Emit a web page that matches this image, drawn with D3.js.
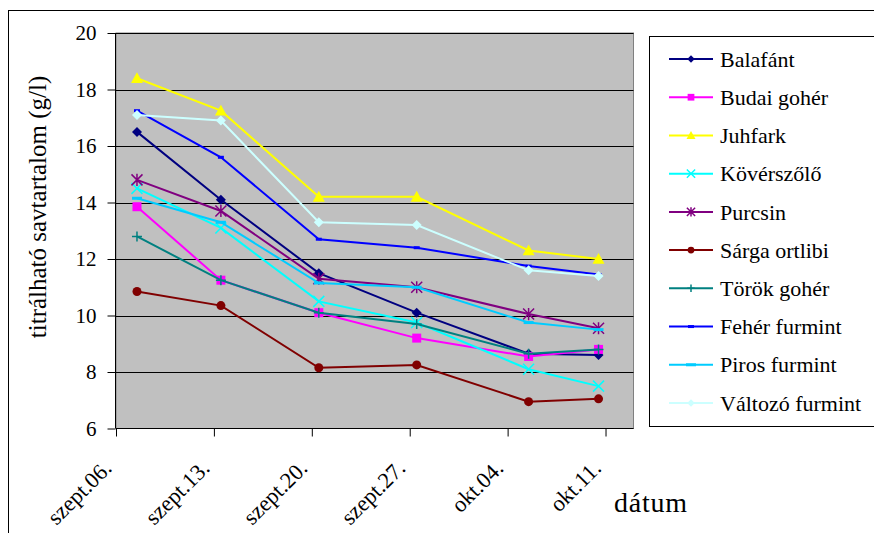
<!DOCTYPE html>
<html>
<head>
<meta charset="utf-8">
<script src="https://cdn.jsdelivr.net/npm/d3@7"></script>
<style>
  html, body { margin: 0; padding: 0; background: #fff; }
  svg { display: block; }
  svg text { font-family: "Liberation Serif", "Tinos", "DejaVu Serif", "Noto Serif", "Times New Roman", Times, serif !important; fill: #000; }
</style>
</head>
<body>
<svg id="chart" width="874" height="533"></svg>
<script>
// Sampling days, counted from szept.06. (day 0)
const sampleDays = [1, 7, 14, 21, 29, 34];
const tickDays = [0, 7, 14, 21, 28, 35];
const tickLabels = ["szept.06.", "szept.13.", "szept.20.", "szept.27.", "okt.04.", "okt.11."];
const yTicks = [6, 8, 10, 12, 14, 16, 18, 20];

// Titratable acid content (g/l) per variety
const balafant = [16.5, 14.1, 11.5, 10.1, 8.65, 8.6];
const budaiGoher = [13.85, 11.25, 10.1, 9.2, 8.55, 8.8];
const juhfark = [18.4, 17.25, 14.2, 14.2, 12.3, 12.0];
const koverszolo = [14.5, 13.1, 10.5, 9.75, 8.1, 7.5];
const purcsin = [14.8, 13.7, 11.3, 11.0, 10.05, 9.55];
const sargaOrtlibi = [10.85, 10.35, 8.15, 8.25, 6.95, 7.05];
const torokGoher = [12.8, 11.25, 10.1, 9.7, 8.65, 8.8];
const feherFurmint = [17.25, 15.6, 12.7, 12.4, 11.75, 11.45];
const pirosFurmint = [14.15, 13.3, 11.15, 11.0, 9.75, 9.5];
const valtozoFurmint = [17.1, 16.9, 13.3, 13.2, 11.6, 11.4];

const seriesNames = ["Balafánt", "Budai gohér", "Juhfark", "Kövérszőlő", "Purcsin",
  "Sárga ortlibi", "Török gohér", "Fehér furmint", "Piros furmint", "Változó furmint"];
const seriesValues = [balafant, budaiGoher, juhfark, koverszolo, purcsin,
  sargaOrtlibi, torokGoher, feherFurmint, pirosFurmint, valtozoFurmint];
const seriesColors = ["#000080", "#FF00FF", "#FFFF00", "#00FFFF", "#800080",
  "#800000", "#008080", "#0000FF", "#00CCFF", "#CCFFFF"];
const seriesMarkers = ["diamond", "square", "triangle", "x", "star",
  "circle", "plus", "dashShort", "dashLong", "diamond"];

const FONT = '"Liberation Serif", "Tinos", "DejaVu Serif", "Noto Serif", "Times New Roman", serif';
const svg = d3.select("#chart").attr("font-family", FONT);

// Plot area
const plotLeft = 116, plotRight = 633.5, plotTop = 33, plotBottom = 428.5;
const x = d3.scaleLinear().domain([0, 37]).range([plotLeft, plotRight]);
const y = d3.scaleLinear().domain([6, 20]).range([plotBottom, plotTop]);

// Outer chart border
svg.append("rect")
  .attr("x", 8.5).attr("y", 10.5).attr("width", 900).attr("height", 600)
  .attr("fill", "#fff").attr("stroke", "#000").attr("stroke-width", 1);

svg.append("rect")
  .attr("x", plotLeft).attr("y", plotTop)
  .attr("width", plotRight - plotLeft).attr("height", plotBottom - plotTop)
  .attr("fill", "#C0C0C0").attr("stroke", "#808080").attr("stroke-width", 1);

// Horizontal gridlines
svg.append("g").selectAll("line")
  .data(yTicks.filter(v => v > 6))
  .join("line")
  .attr("x1", plotLeft).attr("x2", plotRight)
  .attr("y1", d => Math.round(y(d)) + 0.5).attr("y2", d => Math.round(y(d)) + 0.5)
  .attr("stroke", "#000").attr("stroke-width", 1);

// Y axis
const yAxis = svg.append("g")
  .attr("transform", `translate(${plotLeft - 0.5},0)`)
  .call(d3.axisLeft(y).tickValues(yTicks).tickSize(8).tickPadding(11).tickFormat(d3.format("d")));
yAxis.attr("font-family", FONT);
yAxis.select(".domain").attr("stroke", "#000").attr("d", `M0,${plotTop}V${plotBottom}`);
yAxis.selectAll(".tick line").attr("stroke", "#000");
yAxis.selectAll(".tick text")
  .attr("font-size", 21).attr("fill", "#000").attr("dy", "0.33em");

// X axis
const xAxis = svg.append("g")
  .attr("transform", `translate(0,${plotBottom})`)
  .call(d3.axisBottom(x).tickValues(tickDays).tickSize(8).tickFormat(""));
xAxis.select(".domain").attr("stroke", "#000").attr("d", `M${plotLeft},0H${plotRight}`);
xAxis.selectAll(".tick line").attr("stroke", "#000");

svg.append("g").selectAll("text")
  .data(tickDays)
  .join("text")
  .attr("transform", d => `translate(${x(d) - 3},${plotBottom + 41}) rotate(-45)`)
  .attr("text-anchor", "end")
  .attr("font-size", 22.5)
  .text((d, i) => tickLabels[i]);

// Axis titles
svg.append("text")
  .attr("transform", `translate(46,207) rotate(-90)`)
  .attr("text-anchor", "middle")
  .attr("font-size", 25)
  .text("titrálható savtartalom (g/l)");

svg.append("text")
  .attr("x", 614).attr("y", 512)
  .attr("font-size", 28)
  .attr("textLength", 73)
  .text("dátum");

// Marker shapes
function markerPath(type, s) {
  const p = d3.path(), h = s / 2;
  switch (type) {
    case "diamond":
      p.moveTo(0, -h); p.lineTo(h, 0); p.lineTo(0, h); p.lineTo(-h, 0); p.closePath(); break;
    case "square":
      p.rect(-h, -h, s, s); break;
    case "triangle":
      p.moveTo(0, -h); p.lineTo(h, h * 0.8); p.lineTo(-h, h * 0.8); p.closePath(); break;
    case "circle":
      p.arc(0, 0, h, 0, 2 * Math.PI); break;
    case "x":
      p.moveTo(-h, -h); p.lineTo(h, h); p.moveTo(h, -h); p.lineTo(-h, h); break;
    case "star":
      p.moveTo(-h, -h); p.lineTo(h, h); p.moveTo(h, -h); p.lineTo(-h, h);
      p.moveTo(0, -h * 1.1); p.lineTo(0, h * 1.1); break;
    case "plus":
      p.moveTo(-h, 0); p.lineTo(h, 0); p.moveTo(0, -h); p.lineTo(0, h); break;
    case "dashShort":
      p.rect(-3, -1.5, 6, 3); break;
    case "dashLong":
      p.rect(-5, -1.5, 10, 3); break;
  }
  return p.toString();
}
const strokeOnly = new Set(["x", "star", "plus"]);
const markerSize = { diamond: 10, square: 9, triangle: 12, circle: 9, x: 11, star: 11, plus: 10, dashShort: 6, dashLong: 10 };

const line = d3.line()
  .x((d, i) => x(sampleDays[i] + 0.5))
  .y(d => y(d));

const seriesData = seriesNames.map((name, i) => ({
  name, values: seriesValues[i], color: seriesColors[i], marker: seriesMarkers[i]
}));

const plot = svg.append("g");
seriesData.forEach(s => {
  const g = plot.append("g");
  g.append("path")
    .attr("d", line(s.values))
    .attr("fill", "none")
    .attr("stroke", s.color)
    .attr("stroke-width", 2);
  g.selectAll("path.m")
    .data(s.values)
    .join("path")
    .attr("class", "m")
    .attr("transform", (d, i) => `translate(${x(sampleDays[i] + 0.5)},${y(d)})`)
    .attr("d", markerPath(s.marker, markerSize[s.marker]))
    .attr("fill", strokeOnly.has(s.marker) ? "none" : s.color)
    .attr("stroke", strokeOnly.has(s.marker) ? s.color : "none")
    .attr("stroke-width", 1.5);
});

// Legend
const legend = svg.append("g");
legend.append("rect")
  .attr("x", 649.5).attr("y", 36.5).attr("width", 300).attr("height", 390)
  .attr("fill", "#fff").attr("stroke", "#000").attr("stroke-width", 1);

const rowY = d3.scaleLinear().domain([0, 9]).range([59, 403]);
seriesData.forEach((s, i) => {
  const g = legend.append("g").attr("transform", `translate(0,${rowY(i)})`);
  g.append("line").attr("x1", 669).attr("x2", 713).attr("y1", 0).attr("y2", 0)
    .attr("stroke", s.color).attr("stroke-width", 2);
  const sz = s.marker.startsWith("dash") ? markerSize[s.marker] : markerSize[s.marker] * 0.75;
  g.append("path")
    .attr("transform", "translate(691,0)")
    .attr("d", markerPath(s.marker, sz))
    .attr("fill", strokeOnly.has(s.marker) ? "none" : s.color)
    .attr("stroke", strokeOnly.has(s.marker) ? s.color : "none")
    .attr("stroke-width", 1.5);
  g.append("text").attr("x", 720).attr("y", 0).attr("dy", "0.35em")
    .attr("font-size", 22).text(s.name);
});
</script>
</body>
</html>
